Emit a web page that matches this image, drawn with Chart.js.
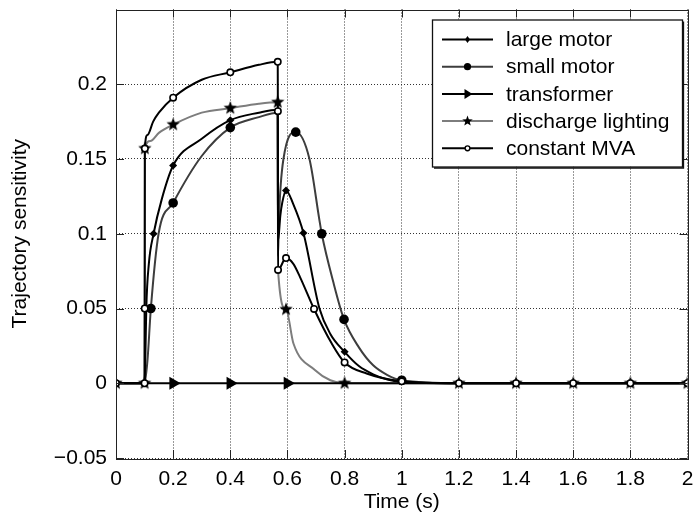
<!DOCTYPE html>
<html>
<head>
<meta charset="utf-8">
<script src="https://cdn.jsdelivr.net/npm/chart.js@4.4.0/dist/chart.umd.min.js"></script>
<style>
  html, body { margin: 0; padding: 0; background: #fff; }
  #wrap { width: 695px; height: 525px; }
</style>
</head>
<body>
<div id="wrap"><canvas id="sensChart" width="695" height="525"></canvas></div>
<script>
// axis ticks
const xTicks = [0, 0.2, 0.4, 0.6, 0.8, 1, 1.2, 1.4, 1.6, 1.8, 2];
const xTickLabels = ['0', '0.2', '0.4', '0.6', '0.8', '1', '1.2', '1.4', '1.6', '1.8', '2'];
const yTicks = [-0.05, 0, 0.05, 0.1, 0.15, 0.2];
const yTickLabels = ['\u22120.05', '0', '0.05', '0.1', '0.15', '0.2'];

const seriesNames = ['large motor', 'small motor', 'transformer', 'discharge lighting', 'constant MVA'];

// curves (time s, sensitivity)
const largeMotorT = [0, 0.1, 0.103, 0.106, 0.115, 0.1315, 0.16, 0.2, 0.3, 0.4, 0.5, 0.566, 0.567, 0.575, 0.582, 0.595, 0.62, 0.656, 0.712, 0.75, 0.8, 0.85, 0.9, 0.95, 1.0, 1.2, 2.0];
const largeMotorV = [0, 0, 0.02, 0.05, 0.08, 0.1, 0.123, 0.1456, 0.1635, 0.176, 0.181, 0.183, 0.095, 0.112, 0.121, 0.129, 0.12, 0.1005, 0.05, 0.033, 0.021, 0.0115, 0.006, 0.0025, 0.001, 0, 0];

const smallMotorT = [0, 0.1, 0.11, 0.122, 0.149, 0.2, 0.3, 0.4, 0.5, 0.566, 0.567, 0.57, 0.586, 0.629, 0.677, 0.712, 0.72, 0.76, 0.798, 0.85, 0.9, 0.95, 1.0, 1.2, 2.0];
const smallMotorV = [0, 0, 0.015, 0.05, 0.1, 0.1206, 0.152, 0.171, 0.178, 0.181, 0.085, 0.109, 0.15, 0.168, 0.15, 0.109, 0.1, 0.068, 0.0427, 0.024, 0.012, 0.0055, 0.002, 0, 0];

const transformerT = [0, 2.0];
const transformerV = [0, 0];

const dischargeT = [0, 0.1, 0.101, 0.12, 0.15, 0.2, 0.3, 0.4, 0.5, 0.566, 0.567, 0.595, 0.621, 0.697, 0.75, 0.8, 2.0];
const dischargeV = [0, 0, 0.157, 0.162, 0.1675, 0.173, 0.181, 0.184, 0.187, 0.188, 0.0758, 0.0494, 0.0266, 0.0087, 0.002, 0, 0];

const constMvaT = [0, 0.1, 0.1005, 0.101, 0.11, 0.13, 0.15, 0.2, 0.3, 0.4, 0.5, 0.566, 0.5665, 0.567, 0.595, 0.62, 0.644, 0.693, 0.755, 0.8, 0.877, 1.0, 1.2, 2.0];
const constMvaV = [0, 0, 0.05, 0.157, 0.166, 0.175, 0.181, 0.191, 0.203, 0.208, 0.213, 0.215, 0.182, 0.0758, 0.0837, 0.08, 0.071, 0.0497, 0.0266, 0.0139, 0.0065, 0.0013, 0, 0];

// where the markers sit
const largeMotorMarkT = [0.1315, 0.2, 0.4, 0.595, 0.656, 0.8];
const largeMotorMarkV = [0.1, 0.1456, 0.176, 0.129, 0.1005, 0.021];
const smallMotorMarkT = [0.122, 0.2, 0.4, 0.629, 0.72, 0.798, 1.0];
const smallMotorMarkV = [0.05, 0.1206, 0.171, 0.168, 0.1, 0.0427, 0.002];
const transformerMarkT = [0.2, 0.4, 0.6];
const transformerMarkV = [0, 0, 0];
const dischargeMarkT = [0, 0.1, 0.101, 0.2, 0.4, 0.566, 0.595, 0.8, 1.2, 1.4, 1.6, 1.8, 2.0];
const dischargeMarkV = [0, 0, 0.157, 0.173, 0.184, 0.188, 0.0494, 0, 0, 0, 0, 0, 0];
const constMvaMarkT = [0, 0.1, 0.1005, 0.101, 0.2, 0.4, 0.566, 0.5665, 0.567, 0.595, 0.693, 0.8, 1.0, 1.2, 1.4, 1.6, 1.8, 2.0];
const constMvaMarkV = [0, 0, 0.05, 0.157, 0.191, 0.208, 0.215, 0.182, 0.0758, 0.0837, 0.0497, 0.0139, 0.0013, 0, 0, 0, 0, 0];

const FONT = "'Liberation Sans', Arial, Helvetica, sans-serif";

function pts(ts, vs) {
    return ts.map((t, i) => ({ x: t, y: vs[i] }));
}

// filled five point star, used as a point style
function makeStar(r, color) {
    const c = document.createElement('canvas');
    const size = Math.ceil(r * 2 + 2);
    c.width = size;
    c.height = size;
    const g = c.getContext('2d');
    starPath(g, size / 2, size / 2, r);
    g.fillStyle = color;
    g.fill();
    return c;
}

function starPath(g, cx, cy, r) {
    const inner = r * 0.42;
    g.beginPath();
    for (let i = 0; i < 10; i++) {
        const rad = i % 2 === 0 ? r : inner;
        const a = -Math.PI / 2 + i * Math.PI / 5;
        const px = cx + Math.cos(a) * rad;
        const py = cy + Math.sin(a) * rad;
        if (i === 0) g.moveTo(px, py); else g.lineTo(px, py);
    }
    g.closePath();
}

const starImg = makeStar(7, '#000');

const styles = [
    { color: '#000000', point: 'rectRot', radius: 4, fill: '#000', border: 0, rot: 0 },
    { color: '#3d3d3d', point: 'circle', radius: 4.8, fill: '#000', border: 0, rot: 0 },
    { color: '#000000', point: 'triangle', radius: 7.5, fill: '#000', border: 0, rot: 90 },
    { color: '#7d7d7d', point: 'star', radius: 7, fill: '#000', border: 0, rot: 0 },
    { color: '#000000', point: 'circle', radius: 3.2, fill: '#fff', border: 1.6, rot: 0 }
];

const curves = [
    pts(largeMotorT, largeMotorV),
    pts(smallMotorT, smallMotorV),
    pts(transformerT, transformerV),
    pts(dischargeT, dischargeV),
    pts(constMvaT, constMvaV)
];
const marks = [
    pts(largeMotorMarkT, largeMotorMarkV),
    pts(smallMotorMarkT, smallMotorMarkV),
    pts(transformerMarkT, transformerMarkV),
    pts(dischargeMarkT, dischargeMarkV),
    pts(constMvaMarkT, constMvaMarkV)
];

// lower order is drawn on top
const lineOrder = [12, 13, 11, 14, 10];
const markOrder = [3, 4, 5, 2, 1];

const datasets = [];
seriesNames.forEach((name, i) => {
    const s = styles[i];
    datasets.push({
        label: name,
        data: curves[i],
        borderColor: s.color,
        borderWidth: 2,
        pointRadius: 0,
        pointHitRadius: 0,
        fill: false,
        tension: 0.4,
        cubicInterpolationMode: 'monotone',
        order: lineOrder[i]
    });
    datasets.push({
        label: name + ' markers',
        data: marks[i],
        showLine: false,
        pointStyle: s.point === 'star' ? starImg : s.point,
        pointRadius: s.radius,
        pointRotation: s.rot,
        pointBackgroundColor: s.fill,
        pointBorderColor: '#000',
        pointBorderWidth: s.border,
        order: markOrder[i]
    });
});

// MATLAB style box, inward ticks and legend
const boxPlugin = {
    id: 'boxPlugin',
    afterDraw(chart) {
        const ctx = chart.ctx;
        const a = chart.chartArea;
        const xs = chart.scales.x, ys = chart.scales.y;
        ctx.save();
        ctx.strokeStyle = '#222';
        ctx.lineWidth = 1;
        ctx.beginPath();
        xTicks.forEach(v => {
            const px = Math.round(xs.getPixelForValue(v)) + 0.5;
            ctx.moveTo(px, a.bottom); ctx.lineTo(px, a.bottom - 8);
            ctx.moveTo(px, a.top); ctx.lineTo(px, a.top + 8);
        });
        yTicks.forEach(v => {
            const py = Math.round(ys.getPixelForValue(v)) + 0.5;
            ctx.moveTo(a.left, py); ctx.lineTo(a.left + 8, py);
            ctx.moveTo(a.right, py); ctx.lineTo(a.right - 8, py);
        });
        ctx.stroke();
        ctx.strokeRect(Math.round(a.left) + 0.5, Math.round(a.top) + 0.5,
            Math.round(a.right - a.left), Math.round(a.bottom - a.top));

        // legend
        const lx = 432, ly = 19.5, lw = 250, lh = 147;
        ctx.fillStyle = '#fff';
        ctx.fillRect(lx, ly, lw, lh);
        ctx.lineWidth = 1.3;
        ctx.strokeStyle = '#111';
        ctx.strokeRect(lx + 0.5, ly + 0.5, lw, lh);
        ctx.beginPath();
        ctx.moveTo(lx + lw + 1.5, ly + 2); ctx.lineTo(lx + lw + 1.5, ly + lh + 1.5);
        ctx.lineTo(lx + 2, ly + lh + 1.5);
        ctx.stroke();
        ctx.font = '21px ' + FONT;
        ctx.textBaseline = 'middle';
        seriesNames.forEach((name, i) => {
            const s = styles[i];
            const y = ly + 20 + i * 27.2;
            ctx.strokeStyle = s.color;
            ctx.lineWidth = 2;
            ctx.beginPath();
            ctx.moveTo(442, y); ctx.lineTo(493, y);
            ctx.stroke();
            legendMarker(ctx, s, 467.5, y);
            ctx.fillStyle = '#000';
            ctx.fillText(name, 506, y + 1);
        });
        ctx.restore();
    }
};

function legendMarker(ctx, s, x, y) {
    ctx.fillStyle = s.fill;
    ctx.strokeStyle = '#000';
    ctx.beginPath();
    if (s.point === 'rectRot') {
        ctx.moveTo(x, y - 3.5); ctx.lineTo(x + 2.5, y); ctx.lineTo(x, y + 3.5); ctx.lineTo(x - 2.5, y);
        ctx.closePath(); ctx.fill();
    } else if (s.point === 'triangle') {
        ctx.moveTo(x + 5, y); ctx.lineTo(x - 3, y - 5); ctx.lineTo(x - 3, y + 5);
        ctx.closePath(); ctx.fill();
    } else if (s.point === 'star') {
        starPath(ctx, x, y, 5.5); ctx.fill();
    } else if (s.border > 0) {
        ctx.arc(x, y, 2.4, 0, Math.PI * 2);
        ctx.fill();
        ctx.lineWidth = 1.4; ctx.stroke();
    } else {
        ctx.arc(x, y, 3.6, 0, Math.PI * 2); ctx.fill();
    }
}

new Chart(document.getElementById('sensChart'), {
    type: 'line',
    data: { datasets: datasets },
    plugins: [boxPlugin],
    options: {
        responsive: false,
        animation: false,
        events: [],
        layout: { padding: { top: 9.5, right: 7, left: 0, bottom: 0 } },
        plugins: { legend: { display: false }, tooltip: { enabled: false } },
        scales: {
            x: {
                type: 'linear',
                min: 0,
                max: 2,
                afterBuildTicks: s => { s.ticks = xTicks.map(v => ({ value: v })); },
                afterFit: s => { s.height = 67; s.paddingLeft = 0; s.paddingRight = 0; },
                grid: { color: '#333', lineWidth: 1, drawTicks: false },
                border: { display: false, dash: [1, 2] },
                ticks: {
                    padding: 9,
                    color: '#000',
                    font: { family: FONT, size: 21 },
                    maxRotation: 0,
                    autoSkip: false,
                    callback: (v, i) => xTickLabels[i]
                },
                title: {
                    display: true,
                    text: 'Time (s)',
                    color: '#000',
                    font: { family: FONT, size: 21 },
                    padding: { top: 0, bottom: 10 }
                }
            },
            y: {
                type: 'linear',
                min: -0.05,
                max: 0.25,
                afterBuildTicks: s => { s.ticks = yTicks.map(v => ({ value: v })); },
                afterFit: s => { s.width = 116; s.paddingTop = 0; s.paddingBottom = 0; },
                grid: { color: '#333', lineWidth: 1, drawTicks: false },
                border: { display: false, dash: [1, 2] },
                ticks: {
                    padding: 9,
                    color: '#000',
                    font: { family: FONT, size: 21 },
                    autoSkip: false,
                    callback: (v, i) => yTickLabels[i]
                },
                title: {
                    display: true,
                    text: 'Trajectory sensitivity',
                    color: '#000',
                    font: { family: FONT, size: 21 },
                    padding: { top: 8, bottom: 0 }
                }
            }
        }
    }
});
</script>
</body>
</html>
